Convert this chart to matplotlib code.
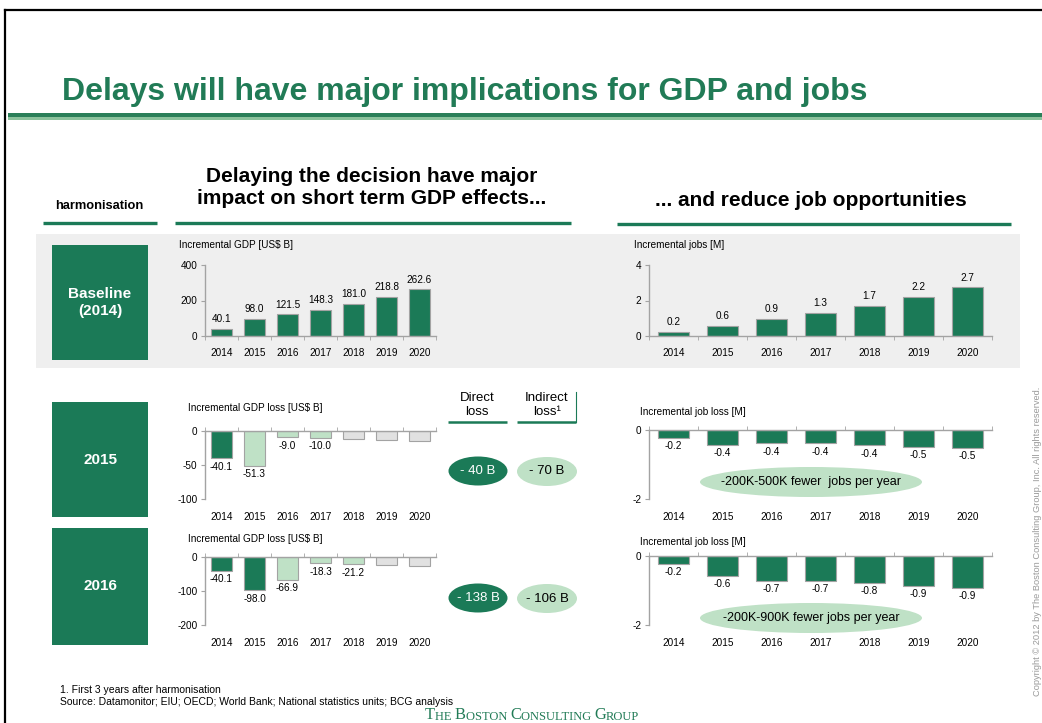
import numpy as np
import matplotlib
matplotlib.use('Agg')
import matplotlib.pyplot as plt
from matplotlib.patches import Rectangle, Ellipse

plt.rcParams['font.family'] = ['Liberation Sans', 'DejaVu Sans']

# data
years = ['2014', '2015', '2016', '2017', '2018', '2019', '2020']
gdp_base = [40.1, 98.0, 121.5, 148.3, 181.0, 218.8, 262.6]
jobs_base = [0.24, 0.58, 0.94, 1.28, 1.71, 2.21, 2.74]
gdp_loss_2015 = [-40.1, -51.3, -9.0, -10.0, -11.5, -13.5, -15.0]
gdp_loss_2016 = [-40.1, -98.0, -66.9, -18.3, -21.2, -22.5, -25.5]
jobs_loss_2015 = [-0.23, -0.43, -0.38, -0.38, -0.44, -0.48, -0.51]
jobs_loss_2016 = [-0.23, -0.58, -0.72, -0.72, -0.77, -0.87, -0.92]
# d = direct loss, i = indirect loss, n = later years (no label)
kind_2015 = ['d', 'i', 'i', 'i', 'n', 'n', 'n']
kind_2016 = ['d', 'd', 'i', 'i', 'i', 'n', 'n']
direct_loss = ['- 40 B', '- 138 B']
indirect_loss = ['- 70 B', '- 106 B']
job_ranges = ['-200K-500K fewer  jobs per year', '-200K-900K fewer jobs per year']

GREEN = '#1b7a57'
LIGHT = '#bfe1c6'
GRAY = '#e1e1e1'
EDGE = '#a3a3a3'
TXT_GREEN = '#217b56'
kind_col = {'d': GREEN, 'i': LIGHT, 'n': GRAY}

W, H = 1042, 723
fig = plt.figure(figsize=(W / 100, H / 100), dpi=100)

# background layer in pixel coordinates
bg = fig.add_axes([0, 0, 1, 1], zorder=0)
bg.set_xlim(0, W)
bg.set_ylim(H, 0)
bg.axis('off')

# slide frame + title
bg.plot([5, W], [10, 10], color='black', lw=1.6)
bg.plot([5, 5], [10, H], color='black', lw=1.6)
bg.text(62, 92, 'Delays will have major implications for GDP and jobs',
        fontsize=23, fontweight='bold', color=TXT_GREEN, va='center')
bg.add_patch(Rectangle((8, 113), W - 8, 3.5, color='#2b7f59', lw=0))
bg.add_patch(Rectangle((8, 116.5), W - 8, 3.5, color='#8cc29c', lw=0))

# column headers
bg.text(99, 206, 'harmonisation', fontsize=9.3, fontweight='bold', ha='center', va='center')
bg.text(372, 188, 'Delaying the decision have major\nimpact on short term GDP effects...',
        fontsize=15, fontweight='bold', ha='center', va='center', linespacing=1.2)
bg.text(811, 200, '... and reduce job opportunities', fontsize=15, fontweight='bold',
        ha='center', va='center')
for xa, xb, y in [(43, 157, 223), (175, 571, 223), (617, 1011, 224)]:
    bg.plot([xa, xb], [y, y], color=GREEN, lw=2.4, solid_capstyle='butt')

# gray band behind baseline row
bg.add_patch(Rectangle((36, 234), 984, 134, color='#efefef', lw=0))

# row boxes
for label, (ya, yb) in [('Baseline\n(2014)', (245, 360)), ('2015', (402, 517)), ('2016', (528, 645))]:
    bg.add_patch(Rectangle((52, ya), 96, yb - ya, color=GREEN, lw=0))
    bg.text(100, (ya + yb) / 2, label, color='white', fontsize=11, fontweight='bold',
            ha='center', va='center', linespacing=1.35)

# direct / indirect headers
bg.text(477, 405, 'Direct\nloss', fontsize=9.5, ha='center', va='center', linespacing=1.15)
bg.text(547, 405, 'Indirect\nloss\u00b9', fontsize=9.5, ha='center', va='center', linespacing=1.15)
bg.plot([448, 507], [422, 422], color=GREEN, lw=1.8, solid_capstyle='butt')
bg.plot([517, 576], [422, 422], color=GREEN, lw=1.8, solid_capstyle='butt')
bg.plot([576, 576], [392, 422], color=GREEN, lw=0.8)

for k, yc in enumerate([471, 598]):
    bg.add_patch(Ellipse((478, yc), 59, 29, color=GREEN, lw=0))
    bg.text(478, yc, direct_loss[k], color='white', fontsize=9.5, ha='center', va='center')
    bg.add_patch(Ellipse((547, yc + 0.5), 60, 29, color=LIGHT, lw=0))
    bg.text(547, yc + 0.5, indirect_loss[k], color='black', fontsize=9.5, ha='center', va='center')

for k, yc in enumerate([482, 618]):
    bg.add_patch(Ellipse((811, yc), 222, 30, color=LIGHT, lw=0))
    bg.text(811, yc, job_ranges[k], fontsize=9, ha='center', va='center')

# chart titles
for x, y, t in [(179, 245, 'Incremental GDP [US$ B]'), (634, 245, 'Incremental jobs [M]'),
                (188, 408, 'Incremental GDP loss [US$ B]'), (640, 412, 'Incremental job loss [M]'),
                (188, 539, 'Incremental GDP loss [US$ B]'), (640, 542, 'Incremental job loss [M]')]:
    bg.text(x, y, t, fontsize=7.2, va='center')

# footnotes
bg.text(60, 690, '1. First 3 years after harmonisation', fontsize=7.5, va='center')
bg.text(60, 702, 'Source: Datamonitor; EIU; OECD; World Bank; National statistics units; BCG analysis',
        fontsize=7.5, va='center')
bg.text(1037, 541, 'Copyright \u00a9 2012 by The Boston Consulting Group, Inc. All rights reserved.',
        fontsize=6.7, color='#9a9a9a', rotation=90, ha='center', va='center')

# BCG wordmark in small caps, chained pieces
pieces = [('T', 11.8), ('HE ', 9), ('B', 11.8), ('OSTON ', 9), ('C', 11.8),
          ('ONSULTING ', 9), ('G', 11.8), ('ROUP', 9)]
prev = bg.text(425, 723, pieces[0][0], fontsize=pieces[0][1], family='Liberation Serif',
               color=TXT_GREEN, va='bottom')
for s, fs in pieces[1:]:
    prev = bg.annotate(s, xy=(1, 0), xycoords=prev, fontsize=fs, family='Liberation Serif',
                       color=TXT_GREEN, va='bottom', ha='left')


def bar_chart(box, vals, ylim, yticks, kinds=None, fmt='{:.1f}'):
    x0, y0, x1, y1 = box
    ax = fig.add_axes([x0 / W, 1 - y1 / H, (x1 - x0) / W, (y1 - y0) / H], zorder=2)
    ax.patch.set_alpha(0)
    x = np.arange(len(vals))
    if kinds is None:
        kinds = ['d'] * len(vals)
    cols = [kind_col[k] for k in kinds]
    ax.bar(x, vals, width=0.63, color=cols, edgecolor=EDGE, linewidth=0.8)
    neg = ylim[1] == 0
    for i, v in enumerate(vals):
        if kinds[i] == 'n':
            continue
        ax.annotate(fmt.format(v), (i, v), xytext=(0, -2.5 if neg else 3.5),
                    textcoords='offset points', ha='center', va='top' if neg else 'bottom',
                    fontsize=7.2)
    ax.set_xlim(-0.5, len(vals) - 0.5)
    ax.set_ylim(*ylim)
    ax.set_yticks(yticks)
    ax.set_yticklabels([str(t) for t in yticks])
    ax.set_xticks(x)
    ax.set_xticklabels(years)
    ax.set_xticks(np.arange(-0.5, len(vals), 1), minor=True)
    ax.tick_params(axis='x', which='major', length=0, pad=9, labelsize=7.2)
    ax.tick_params(axis='x', which='minor', direction='out', length=3, color=EDGE,
                   top=neg, bottom=not neg)
    ax.tick_params(axis='y', length=3, direction='out', color=EDGE, labelsize=7.2, pad=2.5)
    ax.spines['right'].set_visible(False)
    ax.spines['top' if not neg else 'bottom'].set_visible(False)
    for s in ['left', 'top' if neg else 'bottom']:
        ax.spines[s].set_color(EDGE)
        ax.spines[s].set_linewidth(1)
    return ax


bar_chart((205, 265, 436, 336), gdp_base, (0, 400), [0, 200, 400])
bar_chart((649, 265, 992, 336), jobs_base, (0, 4), [0, 2, 4])
bar_chart((205, 431, 436, 499), gdp_loss_2015, (-100, 0), [-100, -50, 0], kinds=kind_2015)
bar_chart((205, 557, 436, 625), gdp_loss_2016, (-200, 0), [-200, -100, 0], kinds=kind_2016)
bar_chart((649, 430, 992, 499), jobs_loss_2015, (-2, 0), [-2, 0])
bar_chart((649, 556, 992, 625), jobs_loss_2016, (-2, 0), [-2, 0])

fig.savefig('out.png', dpi=100)
